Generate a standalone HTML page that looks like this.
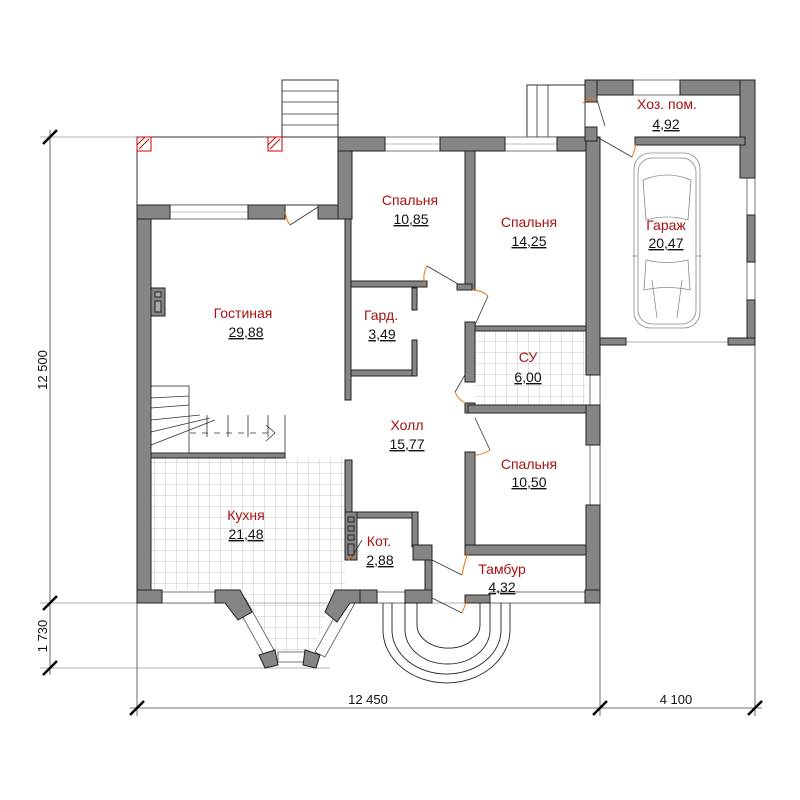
<!DOCTYPE html>
<html><head><meta charset="utf-8"><style>
html,body{margin:0;padding:0;background:#fff;width:800px;height:800px;overflow:hidden}
svg{display:block}
.w{fill:#858585;stroke:#222;stroke-width:1}
.t{fill:none;stroke:#333;stroke-width:1}
.lbl{font-family:"Liberation Sans",sans-serif;font-size:14px;fill:#a81010;text-anchor:middle}
.num{font-family:"Liberation Sans",sans-serif;font-size:14px;fill:#111;text-anchor:middle;text-decoration:underline}
.dim{font-family:"Liberation Sans",sans-serif;font-size:13px;fill:#111;text-anchor:middle}
.win{fill:#fff;stroke:#555;stroke-width:0.8}
.door{fill:none;stroke:#f07010;stroke-width:1}
.dl{stroke:#333;stroke-width:0.8}
</style></head><body>
<svg width="800" height="800" viewBox="0 0 800 800" xmlns="http://www.w3.org/2000/svg">
<defs>
<pattern id="tile" width="11" height="11" patternUnits="userSpaceOnUse">
<path d="M0 0H11M0 0V11" stroke="#b8b8b8" stroke-width="0.8" fill="none"/>
</pattern>
</defs>
<rect x="151" y="458" width="194" height="132" fill="url(#tile)"/>
<polygon points="215,590 335,590 312,655 270,655" fill="url(#tile)"/>
<rect x="475" y="331" width="111" height="74" fill="url(#tile)"/>

<g stroke="#444" stroke-width="0.8">
<line x1="50" y1="130" x2="50" y2="675"/>
<line x1="40" y1="137" x2="348" y2="137" stroke="#999"/>
<line x1="40" y1="603" x2="600" y2="603" stroke="#999"/>
<line x1="40" y1="668" x2="330" y2="668" stroke="#999"/>
<line x1="130" y1="708" x2="762" y2="708"/>
<line x1="137" y1="603" x2="137" y2="716"/>
<line x1="600" y1="345" x2="600" y2="716"/>
<line x1="755" y1="345" x2="755" y2="716"/>
</g>
<g stroke="#000" stroke-width="2.5">
<line x1="43" y1="144" x2="57" y2="130"/>
<line x1="43" y1="610" x2="57" y2="596"/>
<line x1="43" y1="675" x2="57" y2="661"/>
<line x1="130" y1="715" x2="144" y2="701"/>
<line x1="593" y1="715" x2="607" y2="701"/>
<line x1="748" y1="715" x2="762" y2="701"/>
</g>
<text class="dim" transform="translate(47,370) rotate(-90)">12 500</text>
<text class="dim" transform="translate(47,636) rotate(-90)">1 730</text>
<text class="dim" x="368" y="704">12 450</text>
<text class="dim" x="676" y="704">4 100</text>

<rect x="137" y="137" width="205" height="68" class="t"/>
<rect x="282" y="80" width="56" height="57" class="t"/>
<g class="dl"><line x1="282" y1="91" x2="338" y2="91"/><line x1="282" y1="102" x2="338" y2="102"/><line x1="282" y1="114" x2="338" y2="114"/><line x1="282" y1="125" x2="338" y2="125"/></g>
<rect x="137" y="137" width="14" height="14" fill="#fff" stroke="#c00"/>
<line x1="139" y1="149" x2="149" y2="139" stroke="#c00"/><line x1="137" y1="145" x2="145" y2="137" stroke="#c00"/>
<rect x="268" y="137" width="14" height="14" fill="#fff" stroke="#c00"/>
<line x1="270" y1="149" x2="280" y2="139" stroke="#c00"/><line x1="268" y1="145" x2="276" y2="137" stroke="#c00"/>

<rect x="527" y="85" width="58" height="52" class="t"/>
<line x1="537" y1="85" x2="537" y2="137" class="dl"/><line x1="548" y1="85" x2="548" y2="137" class="dl"/>

<g class="win">
<rect x="170" y="205" width="78" height="14"/>
<rect x="385" y="137" width="55" height="14"/>
<rect x="505" y="137" width="52" height="14"/>
<rect x="633" y="80" width="47" height="15"/>
<rect x="747" y="178" width="8" height="37"/>
<rect x="747" y="262" width="8" height="38"/>
<rect x="590" y="375" width="10" height="30"/>
<rect x="590" y="445" width="10" height="60"/>
<rect x="162" y="592" width="53" height="11"/>
<rect x="377" y="592" width="28" height="11"/>
<rect x="490" y="592" width="95" height="11"/>
<rect x="278" y="652" width="27" height="10"/>
<polygon points="235,603 245,598 275,652 265,657"/>
<polygon points="315,652 345,598 355,603 325,657"/>
</g>
<line x1="170" y1="212" x2="248" y2="212" stroke="#888" stroke-width="0.6"/>
<line x1="385" y1="144" x2="440" y2="144" stroke="#888" stroke-width="0.6"/>
<line x1="505" y1="144" x2="557" y2="144" stroke="#888" stroke-width="0.6"/>

<g class="w">
<rect x="137" y="205" width="14" height="398"/>
<rect x="137" y="205" width="33" height="14"/>
<rect x="248" y="205" width="37" height="14"/>
<rect x="318" y="205" width="34" height="14"/>
<rect x="338" y="137" width="14" height="82"/>
<rect x="345" y="219" width="6" height="181"/>
<rect x="338" y="137" width="47" height="14"/>
<rect x="440" y="137" width="65" height="14"/>
<rect x="557" y="137" width="43" height="14"/>
<rect x="465" y="151" width="10" height="139"/>
<rect x="351" y="281" width="76" height="6"/>
<rect x="457" y="284" width="15" height="6"/>
<rect x="351" y="370" width="66" height="6"/>
<rect x="412" y="288" width="5" height="22"/>
<rect x="412" y="340" width="5" height="36"/>
<rect x="586" y="137" width="14" height="238"/>
<rect x="586" y="405" width="14" height="40"/>
<rect x="586" y="505" width="14" height="98"/>
<rect x="468" y="326" width="118" height="5"/>
<rect x="465" y="322" width="10" height="60"/>
<rect x="465" y="403" width="10" height="10"/>
<rect x="468" y="405" width="118" height="8"/>
<rect x="465" y="452" width="10" height="95"/>
<rect x="465" y="545" width="121" height="10"/>
<rect x="151" y="453" width="134" height="5"/>
<rect x="345" y="460" width="7" height="52"/>
<rect x="345" y="512" width="72" height="6"/>
<rect x="345" y="512" width="12" height="48"/>
<rect x="412" y="512" width="6" height="35"/>
<rect x="413" y="545" width="19" height="15"/>
<rect x="425" y="560" width="7" height="43"/>
<rect x="137" y="590" width="25" height="13"/>
<rect x="405" y="590" width="27" height="13"/>
<rect x="465" y="595" width="25" height="8"/>
<rect x="585" y="590" width="15" height="13"/>
<rect x="360" y="590" width="17" height="13"/>
<polygon points="215,590 240,590 252,612 238,620 225,603 215,603"/>
<polygon points="259,655 275,650 278,665 265,668"/>
<polygon points="305,650 320,655 316,668 303,665"/>
<polygon points="335,590 360,590 360,603 350,603 337,622 325,612"/>
<rect x="585" y="80" width="48" height="15"/>
<rect x="680" y="80" width="75" height="15"/>
<rect x="740" y="80" width="15" height="98"/>
<rect x="747" y="215" width="8" height="47"/>
<rect x="747" y="300" width="8" height="45"/>
<rect x="585" y="80" width="12" height="22"/>
<rect x="585" y="127" width="12" height="14"/>
<rect x="635" y="137" width="110" height="8"/>
<rect x="600" y="338" width="26" height="7"/>
<rect x="728" y="338" width="27" height="7"/>
</g>
<line x1="626" y1="342" x2="728" y2="342" stroke="#666" stroke-width="0.6"/>
<g fill="#858585" stroke="#222"><rect x="348" y="517" width="6" height="5"/><rect x="348" y="526" width="6" height="5"/><rect x="348" y="535" width="6" height="5"/><rect x="348" y="544" width="6" height="11"/></g>
<rect x="151" y="288" width="14" height="28" fill="#858585" stroke="#222"/>
<rect x="155" y="292" width="6" height="5" fill="#aaa" stroke="#222"/><rect x="155" y="301" width="6" height="11" fill="#aaa" stroke="#222"/>

<g class="dl" fill="none">
<rect x="151" y="386" width="38" height="67"/>
<line x1="151" y1="398" x2="189" y2="396"/><line x1="151" y1="408" x2="189" y2="405"/>
<line x1="151" y1="420" x2="200" y2="415"/><line x1="151" y1="432" x2="210" y2="418"/>
<line x1="151" y1="445" x2="215" y2="420"/>
<line x1="207" y1="415" x2="207" y2="437"/><line x1="228" y1="415" x2="228" y2="437"/>
<line x1="248" y1="415" x2="248" y2="437"/><line x1="268" y1="415" x2="268" y2="437"/>
<line x1="285" y1="415" x2="285" y2="453"/>
<line x1="190" y1="433" x2="275" y2="433" stroke-dasharray="6,6"/>
<polyline points="266,425 275,433 266,441"/>
</g>

<g class="dl">
<line x1="290" y1="225" x2="318" y2="207"/>
<line x1="427" y1="266" x2="458" y2="284"/>
<line x1="475" y1="325" x2="488" y2="296"/>
<line x1="455" y1="392" x2="465" y2="375"/>
<line x1="475" y1="418" x2="490" y2="450"/>
<line x1="597" y1="100" x2="605" y2="126" />
<line x1="597" y1="137" x2="632" y2="157"/>
<line x1="350" y1="560" x2="362" y2="540"/>
<line x1="432" y1="560" x2="462" y2="575"/>
<line x1="432" y1="598" x2="462" y2="613"/>
</g>
<g class="door">
<path d="M285 212 Q287 222 290 225"/>
<path d="M427 266 Q422 275 425 285"/>
<path d="M488 296 Q482 290 472 290"/>
<path d="M455 392 Q458 400 466 403"/>
<path d="M490 450 Q482 455 475 455"/>
<path d="M597 100 Q590 96 583 103"/>
<path d="M632 157 Q635 150 636 143"/>
<path d="M350 560 Q345 558 358 556"/>
<path d="M462 575 Q465 560 468 553"/>
<path d="M462 613 Q465 606 467 600"/>
</g>

<g fill="none" stroke="#222" stroke-width="0.9">
<path d="M383 603 V630 A60 50 0 0 0 510 630 V603"/>
<path d="M392 603 V630 A52 42 0 0 0 501 630 V603"/>
<path d="M405 603 V630 A40 32 0 0 0 490 630 V603"/>
<path d="M417 603 V625 A30 22 0 0 0 480 625 V603"/>
</g>

<g fill="none" stroke="#888" stroke-width="0.8">
<rect x="634" y="153" width="66" height="175" rx="16"/>
<rect x="638" y="158" width="58" height="166" rx="14"/>
<path d="M643 180 Q667 170 691 180 L688 220 Q667 214 646 220 Z"/>
<path d="M646 260 Q667 265 688 260 L690 290 Q667 285 644 290 Z"/>
<line x1="652" y1="280" x2="657" y2="318"/><line x1="682" y1="280" x2="677" y2="318"/>
<path d="M632 256 h6 M696 256 h6"/>
</g>

<text class="lbl" x="243" y="318">Гостиная</text><text class="num" x="246" y="337">29,88</text>
<text class="lbl" x="410" y="205">Спальня</text><text class="num" x="411" y="224">10,85</text>
<text class="lbl" x="529" y="227">Спальня</text><text class="num" x="529" y="246">14,25</text>
<text class="lbl" x="381" y="320">Гард.</text><text class="num" x="382" y="339">3,49</text>
<text class="lbl" x="528" y="362">СУ</text><text class="num" x="528" y="382">6,00</text>
<text class="lbl" x="407" y="430">Холл</text><text class="num" x="407" y="449">15,77</text>
<text class="lbl" x="529" y="469">Спальня</text><text class="num" x="529" y="487">10,50</text>
<text class="lbl" x="246" y="520">Кухня</text><text class="num" x="246" y="539">21,48</text>
<text class="lbl" x="379" y="546">Кот.</text><text class="num" x="380" y="565">2,88</text>
<text class="lbl" x="502" y="574">Тамбур</text><text class="num" x="502" y="592">4,32</text>
<text class="lbl" x="667" y="109">Хоз. пом.</text><text class="num" x="666" y="129">4,92</text>
<text class="lbl" x="666" y="230">Гараж</text><text class="num" x="666" y="248">20,47</text>
</svg>
</body></html>
